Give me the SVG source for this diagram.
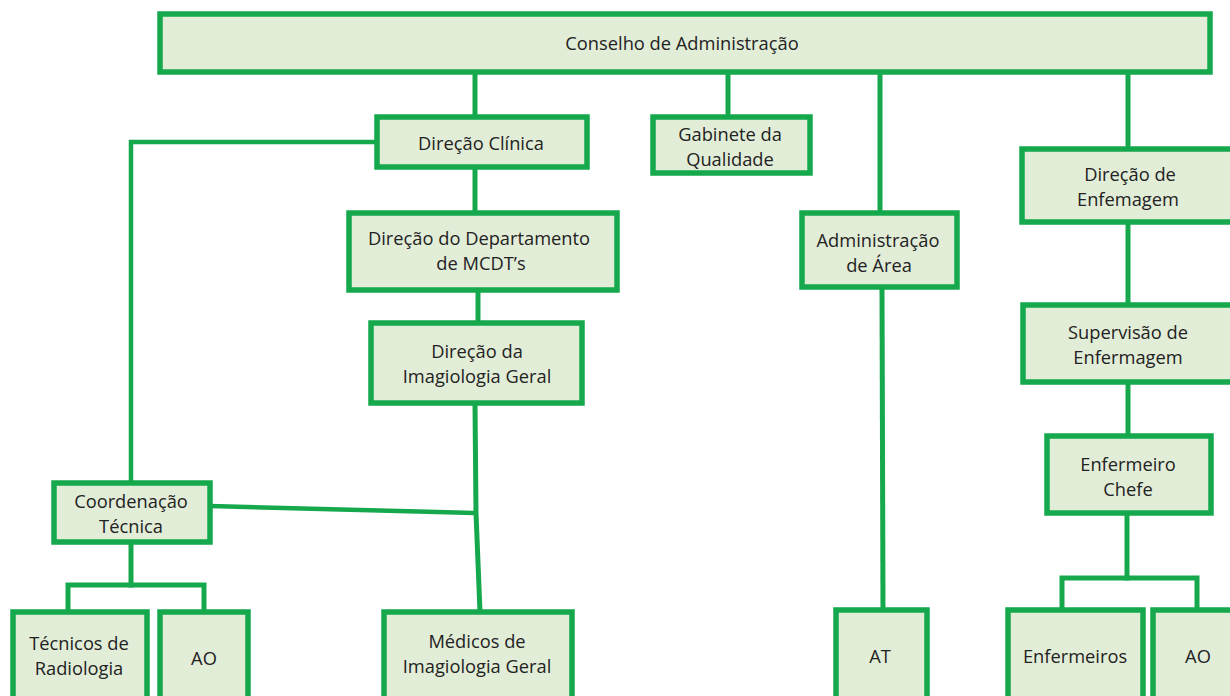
<svg xmlns="http://www.w3.org/2000/svg" width="1230" height="696" viewBox="0 0 1230 696">
<style>
.box{fill:#e2edd8;stroke:#15a84c;stroke-width:5.5}
.ln{fill:none;stroke:#15a84c;stroke-width:5;stroke-linecap:square}
.ln2{fill:none;stroke:#15a84c;stroke-width:4.5}
text{font-family:"Open Sans","Liberation Sans",sans-serif;font-size:18.3px;fill:#222222;text-anchor:middle;dominant-baseline:central}
</style>
<rect width="1230" height="696" fill="#ffffff"/>
<g id="connectors">
<line class="ln" x1="475" y1="72" x2="475" y2="117"/>
<line class="ln" x1="728" y1="72" x2="728" y2="117"/>
<line class="ln" x1="880" y1="72" x2="880" y2="213"/>
<line class="ln" x1="1128" y1="72" x2="1128" y2="148"/>
<polyline class="ln2" points="377,142 131,142 131,483"/>
<line class="ln" x1="475" y1="167" x2="475" y2="213"/>
<line class="ln" x1="478" y1="290" x2="478" y2="323"/>
<polyline class="ln" points="475,403 476,513 480,612"/>
<line class="ln2" x1="210" y1="506" x2="475" y2="513"/>
<line class="ln" x1="131" y1="542" x2="131" y2="585"/>
<polyline class="ln" points="68,612 68,585 204,585 204,612"/>
<line class="ln" x1="882" y1="287" x2="883" y2="610"/>
<line class="ln" x1="1128" y1="222" x2="1128" y2="305"/>
<line class="ln" x1="1128" y1="382" x2="1128" y2="436"/>
<line class="ln" x1="1127" y1="513" x2="1127" y2="578"/>
<polyline class="ln" points="1062,610 1062,578 1197,578 1197,610"/>
</g>
<g id="conselho"><rect class="box" x="160" y="14" width="1050" height="58"/><text x="682" y="42">Conselho de Administração</text></g>
<g id="direcao-clinica"><rect class="box" x="377" y="117" width="210" height="50"/><text x="481" y="142">Direção Clínica</text></g>
<g id="gabinete"><rect class="box" x="653" y="117" width="157" height="56"/><text x="730" y="133">Gabinete da</text><text x="730" y="158">Qualidade</text></g>
<g id="direcao-enfermagem"><rect class="box" x="1022" y="149" width="214" height="73"/><text x="1130" y="173.5">Direção de</text><text x="1128" y="198.5">Enfemagem</text></g>
<g id="mcdt"><rect class="box" x="349" y="213" width="268" height="77"/><text x="479" y="237.5">Direção do Departamento</text><text x="481" y="262.5">de MCDT’s</text></g>
<g id="admin-area"><rect class="box" x="802" y="213" width="155" height="74"/><text x="878" y="239">Administração</text><text x="879" y="264">de Área</text></g>
<g id="imagiologia"><rect class="box" x="371" y="323" width="211" height="80"/><text x="477" y="350">Direção da</text><text x="477" y="375">Imagiologia Geral</text></g>
<g id="supervisao"><rect class="box" x="1023" y="305" width="213" height="77"/><text x="1128" y="331.5">Supervisão de</text><text x="1128" y="356.5">Enfermagem</text></g>
<g id="enfermeiro-chefe"><rect class="box" x="1047" y="436" width="164" height="77"/><text x="1128" y="463">Enfermeiro</text><text x="1128" y="488">Chefe</text></g>
<g id="coordenacao"><rect class="box" x="54" y="483" width="156" height="59"/><text x="131" y="500">Coordenação</text><text x="131" y="525">Técnica</text></g>
<g id="tecnicos"><rect class="box" x="13" y="612" width="134" height="96"/><text x="79" y="642.5">Técnicos de</text><text x="79" y="667.5">Radiologia</text></g>
<g id="ao-left"><rect class="box" x="160" y="612" width="88" height="96"/><text x="204" y="657">AO</text></g>
<g id="medicos"><rect class="box" x="384" y="612" width="188" height="96"/><text x="477" y="640">Médicos de</text><text x="477" y="665">Imagiologia Geral</text></g>
<g id="at"><rect class="box" x="836" y="610" width="91" height="98"/><text x="880" y="655">AT</text></g>
<g id="enfermeiros"><rect class="box" x="1008" y="610" width="135" height="98"/><text x="1075" y="655">Enfermeiros</text></g>
<g id="ao-right"><rect class="box" x="1153" y="610" width="90" height="98"/><text x="1198" y="655">AO</text></g>
</svg>
